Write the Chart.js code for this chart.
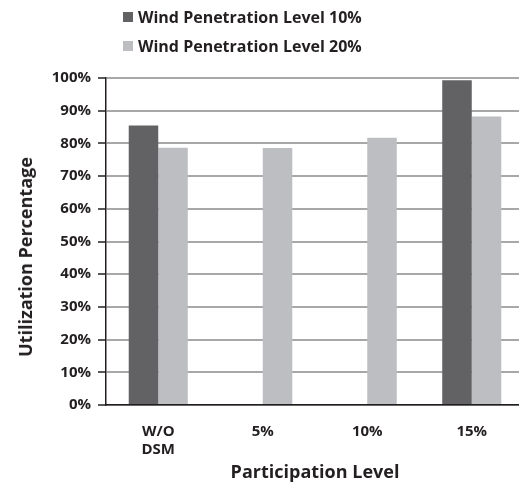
<!DOCTYPE html>
<html><head><meta charset="utf-8">
<script src="https://cdn.jsdelivr.net/npm/chart.js@4.4.1/dist/chart.umd.min.js"></script>
<style>
html,body{margin:0;padding:0;background:#fff;overflow:hidden;}
#wrap{position:relative;width:519px;height:483px;overflow:hidden;}
#box{position:absolute;left:0;top:0;width:526px;height:483px;}
#legend{position:absolute;left:0;top:0;font:bold 16px 'Open Sans',sans-serif;color:#231f20;}
.item{position:absolute;left:123px;white-space:nowrap;display:flex;align-items:center;height:22px;line-height:22px;}
.sw{display:inline-block;width:10px;height:10px;margin-right:5px;}
#ytitle{position:absolute;left:25px;top:257px;transform:translate(-50%,-50%) rotate(-90deg);font:bold 18px 'Open Sans',sans-serif;white-space:nowrap;color:#231f20;}
</style></head>
<body>
<div id="wrap">
  <div id="box"><canvas id="c" width="526" height="483"></canvas></div>
  <div id="legend"></div>
  <div id="ytitle"></div>
</div>
<script>
const categories = [['W/O', 'DSM'], '5%', '10%', '15%'];
const seriesNames = ['Wind Penetration Level 10%', 'Wind Penetration Level 20%'];
const wind10 = [85.5, null, null, 99.3];
const wind20 = [78.7, 78.6, 81.7, 88.2];
const seriesColors = ['#626264', '#bdbec1'];
const xTitle = 'Participation Level';
const yTitle = 'Utilization Percentage';
const yMin = 0, yMax = 100, yStep = 10;

const txt = '#231f20';
Chart.defaults.font.family = "'Open Sans', sans-serif";
Chart.defaults.font.weight = 'bold';
Chart.defaults.color = txt;

const chart = new Chart(document.getElementById('c'), {
  type: 'bar',
  data: {
    labels: categories,
    datasets: [
      { label: seriesNames[0], data: wind10, backgroundColor: seriesColors[0] },
      { label: seriesNames[1], data: wind20, backgroundColor: seriesColors[1] }
    ]
  },
  options: {
    responsive: false,
    animation: false,
    devicePixelRatio: 1,
    categoryPercentage: 0.565,
    barPercentage: 1,
    layout: { padding: { top: 78, right: 2, left: 0, bottom: 0 } },
    plugins: { legend: { display: false }, tooltip: { enabled: false } },
    scales: {
      x: {
        afterFit: s => { s.height = 78; },
        grid: { display: false, drawTicks: false },
        border: { display: true, color: txt, width: 1.5 },
        ticks: { font: { size: 15, weight: 'bold' }, padding: 18, color: txt, maxRotation: 0 },
        title: { display: true, text: xTitle, font: { size: 18, weight: 'bold' }, color: txt, padding: { top: 0, bottom: -1 } }
      },
      y: {
        min: yMin, max: yMax,
        afterFit: s => { s.width = 106; },
        grid: { color: '#a8a8a8', lineWidth: 2, tickColor: txt, tickLength: 8, tickWidth: 1.5 },
        border: { display: true, color: txt, width: 1.5 },
        ticks: { stepSize: yStep, font: { size: 15, weight: 'bold' }, padding: 7, color: txt, callback: v => v + '%' }
      }
    }
  }
});

// HTML legend built from the chart datasets
const lg = document.getElementById('legend');
const tops = [5.5, 34.5];
chart.data.datasets.forEach((ds, i) => {
  const d = document.createElement('div');
  d.className = 'item';
  d.style.top = tops[i] + 'px';
  const sw = document.createElement('span');
  sw.className = 'sw';
  sw.style.background = ds.backgroundColor;
  d.appendChild(sw);
  d.appendChild(document.createTextNode(ds.label));
  lg.appendChild(d);
});
document.getElementById('ytitle').textContent = yTitle;
</script>
</body></html>
